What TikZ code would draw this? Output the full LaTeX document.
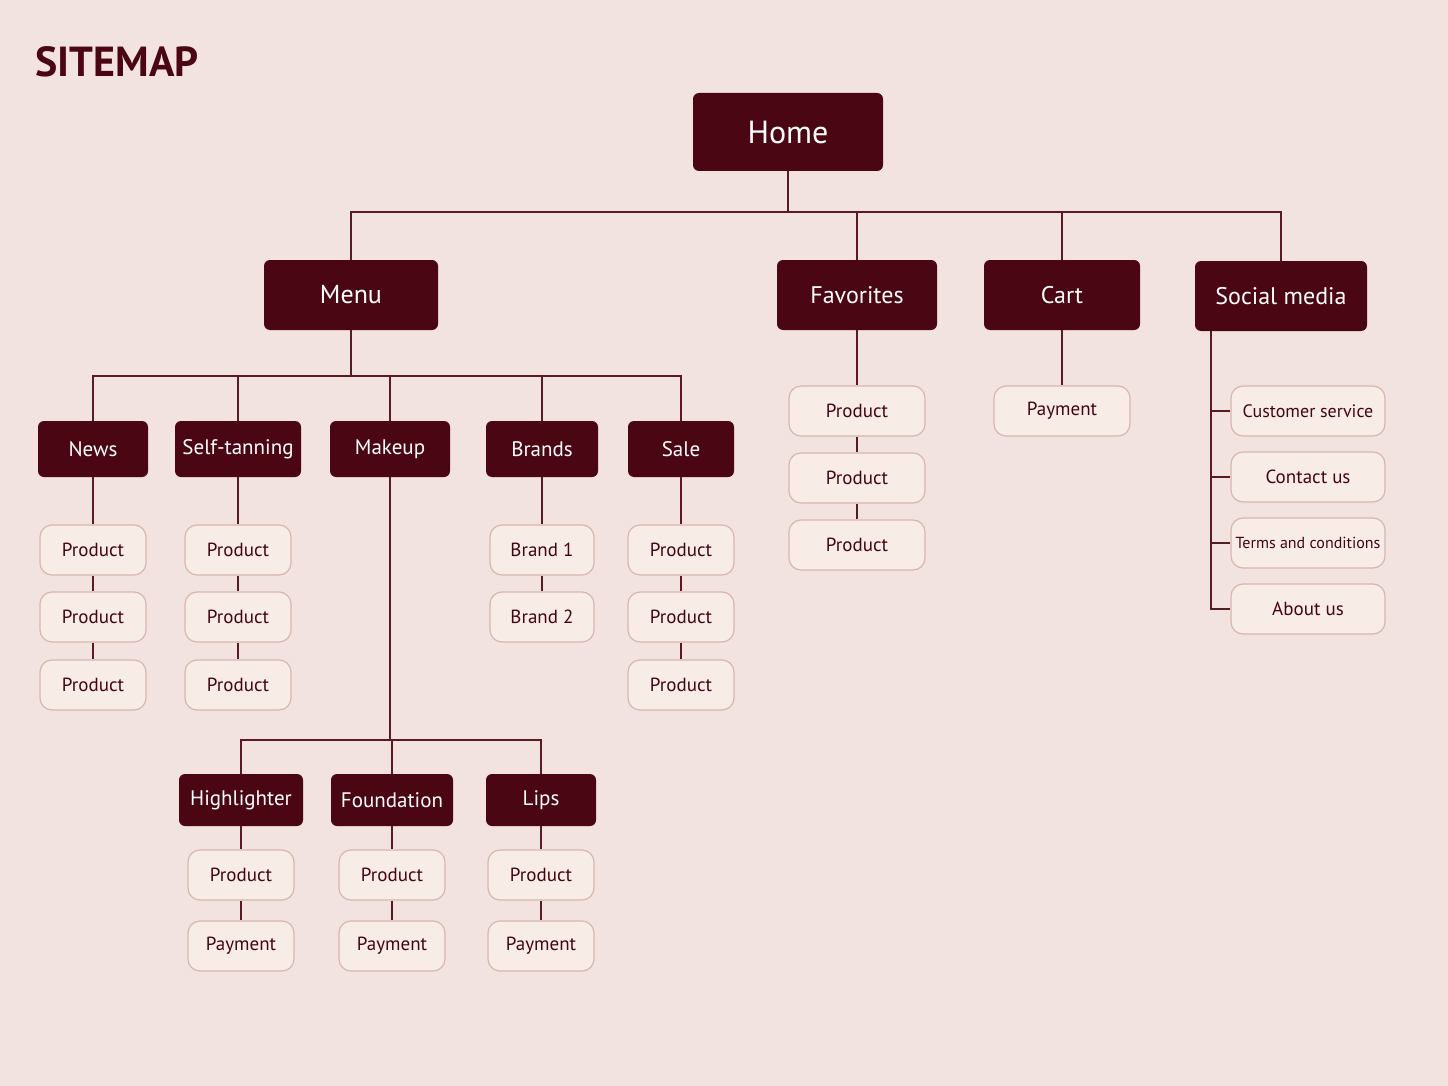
\documentclass[tikz,border=0pt]{standalone}
\usepackage{fontspec}
\setmainfont{PT Sans}
\definecolor{bgpink}{HTML}{F2E2E0}
\definecolor{wine}{HTML}{4A0713}
\definecolor{paleBox}{HTML}{F8ECE6}
\definecolor{paleLine}{HTML}{D8B6AE}
\definecolor{linkCol}{HTML}{5A1A22}
\tikzset{
  dark/.style={fill=wine, text=white, rounded corners=6pt, minimum height=56pt, font=\fontsize{21}{24}\selectfont},
  light/.style={fill=paleBox, draw=paleLine, line width=1.2pt, text=wine!90!black, rounded corners=12pt, minimum width=106pt, minimum height=50pt, font=\fontsize{19}{22}\selectfont},
  link/.style={draw=linkCol, line width=2pt}
}
\begin{document}
\begin{tikzpicture}[x=1pt,y=-1pt]
\fill[bgpink] (0,0) rectangle (1448,1086);
\useasboundingbox (0,0) rectangle (1448,1086);
\node[anchor=west, text=wine, font=\bfseries\fontsize{42}{46}\selectfont] (title) at (32,62) {SITEMAP};

% top level
\node[dark, minimum width=190pt, minimum height=78pt, font=\fontsize{32}{36}\selectfont] (home) at (788,132) {Home};
\node[dark, minimum width=174pt, minimum height=70pt, font=\fontsize{26}{30}\selectfont] (menu) at (351,295) {Menu};
\node[dark, minimum width=160pt, minimum height=70pt, font=\fontsize{24}{28}\selectfont] (fav) at (857,295) {Favorites};
\node[dark, minimum width=156pt, minimum height=70pt, font=\fontsize{24}{28}\selectfont] (cart) at (1062,295) {Cart};
\node[dark, minimum width=172pt, minimum height=70pt, font=\fontsize{24}{28}\selectfont] (social) at (1281,296) {Social media};
\foreach \n in {menu,fav,cart,social}
  \draw[link] (home.south) -- ++(0,41) -| (\n.north);

% menu branches
\foreach \n/\t/\x/\w in {news/News/93/110, tan/Self-tanning/238/126, makeup/Makeup/390/120, brands/Brands/542/112, sale/Sale/681/106}{
  \node[dark, minimum width=\w pt] (\n) at (\x,449) {\t};
  \draw[link] (menu.south) -- ++(0,46) -| (\n.north);
}

% product columns
\foreach \n/\x in {news/93, tan/238, sale/681}{
  \node[light] (\n1) at (\x,550) {Product};
  \node[light] (\n2) at (\x,617) {Product};
  \node[light] (\n3) at (\x,685) {Product};
  \draw[link] (\n.south) -- (\n1.north);
  \draw[link] (\n1.south) -- (\n2.north);
  \draw[link] (\n2.south) -- (\n3.north);
}
\node[light, minimum width=104pt] (brand1) at (542,550) {Brand 1};
\node[light, minimum width=104pt] (brand2) at (542,617) {Brand 2};
\draw[link] (brands.south) -- (brand1.north);
\draw[link] (brand1.south) -- (brand2.north);

% favorites and cart
\node[light, minimum width=136pt] (fav1) at (857,411) {Product};
\node[light, minimum width=136pt] (fav2) at (857,478) {Product};
\node[light, minimum width=136pt] (fav3) at (857,545) {Product};
\draw[link] (fav.south) -- (fav1.north);
\draw[link] (fav1.south) -- (fav2.north);
\draw[link] (fav2.south) -- (fav3.north);
\node[light, minimum width=136pt] (pay) at (1062,411) {Payment};
\draw[link] (cart.south) -- (pay.north);

% social media
\coordinate (spine) at (1211,331);
\foreach \n/\t/\y/\f in {cs/Customer service/411/18, contact/Contact us/477/19, terms/Terms and conditions/543/16, about/About us/609/19}{
  \node[light, minimum width=154pt, font=\fontsize{\f}{22}\selectfont] (\n) at (1308,\y) {\t};
  \draw[link] (spine) |- (\n.west);
}

% makeup
\foreach \n/\t/\x/\w in {high/Highlighter/241/124, found/Foundation/392/122, lips/Lips/541/110}{
  \node[dark, minimum width=\w pt, minimum height=52pt] (\n) at (\x,800) {\t};
  \draw[link] (makeup.south) -- ++(0,263) -| (\n.north);
  \node[light] (\n P) at (\x,875) {Product};
  \node[light] (\n Y) at (\x,946) {Payment};
  \draw[link] (\n.south) -- (\n P.north);
  \draw[link] (\n P.south) -- (\n Y.north);
}
\end{tikzpicture}
\end{document}
